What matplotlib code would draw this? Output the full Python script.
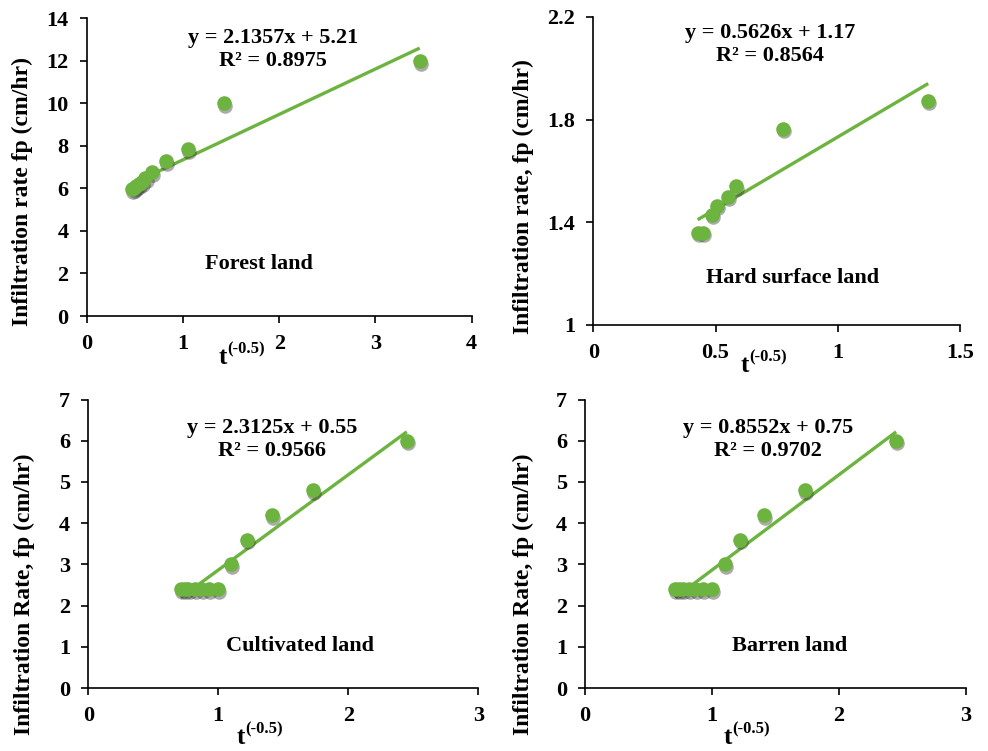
import numpy as np
import matplotlib
matplotlib.use('Agg')
import matplotlib.pyplot as plt
from matplotlib import transforms

plt.rcParams['font.family'] = ['Liberation Serif', 'DejaVu Serif']
plt.rcParams['font.weight'] = 'bold'

# --- data ---
# Forest land
forest_x = [3.46, 1.43, 1.05, 0.82, 0.68, 0.61, 0.57, 0.54, 0.51, 0.49, 0.47]
forest_y = [12.0, 10.0, 7.85, 7.3, 6.75, 6.5, 6.3, 6.2, 6.1, 6.0, 5.95]
forest_fit = (2.1357, 5.21)

# Hard surface land
hard_x = [1.37, 0.776, 0.584, 0.551, 0.505, 0.485, 0.447, 0.427]
hard_y = [1.874, 1.765, 1.54, 1.50, 1.465, 1.43, 1.36, 1.36]
hard_fit = (0.5626, 1.17)

# Cultivated land
cult_x = [2.45, 1.73, 1.41, 1.22, 1.10, 1.0, 0.93, 0.87, 0.82, 0.77, 0.74, 0.71]
cult_y = [6.0, 4.8, 4.2, 3.6, 3.0, 2.4, 2.4, 2.4, 2.4, 2.4, 2.4, 2.4]
cult_fit = (2.3125, 0.55)

# Barren land (the plotted points / line are identical to cultivated in the original)
barren_x = [2.45, 1.73, 1.41, 1.22, 1.10, 1.0, 0.93, 0.87, 0.82, 0.77, 0.74, 0.71]
barren_y = [6.0, 4.8, 4.2, 3.6, 3.0, 2.4, 2.4, 2.4, 2.4, 2.4, 2.4, 2.4]
barren_fit = (2.3125, 0.55)

GREEN = '#6db33f'
W, H = 988, 751


def rect(l, r, t, b):
    return [l / W, 1 - b / H, (r - l) / W, (b - t) / H]


def fxy(px, py):
    return px / W, 1 - py / H


fig = plt.figure(figsize=(W / 100, H / 100), dpi=100)

panels = [
    dict(x=forest_x, y=forest_y, fit=forest_fit, pos=(86.7, 471.7, 18.3, 316),
         xlim=(0, 4), xt=np.arange(0, 5, 1), ylim=(0, 14), yt=np.arange(0, 15, 2),
         eq='y = 2.1357x + 5.21', r2='R² = 0.8975', eqpos=(273, 38),
         name='Forest land', namepos=(259, 264),
         ylab='Infiltration rate fp (cm/hr)', ylabpos=(22, 192), xlabpos=(240, 356)),
    dict(x=hard_x, y=hard_y, fit=hard_fit, pos=(593.3, 960, 17, 325),
         xlim=(0, 1.5), xt=np.arange(0, 1.6, 0.5), ylim=(1, 2.2), yt=[1, 1.4, 1.8, 2.2],
         eq='y = 0.5626x + 1.17', r2='R² = 0.8564', eqpos=(770, 33),
         name='Hard surface land', namepos=(793, 278),
         ylab='Infiltration rate, fp (cm/hr)', ylabpos=(523, 197), xlabpos=(762, 364)),
    dict(x=cult_x, y=cult_y, fit=cult_fit, pos=(88.3, 478.3, 399.5, 688),
         xlim=(0, 3), xt=np.arange(0, 4, 1), ylim=(0, 7), yt=np.arange(0, 8, 1),
         eq='y = 2.3125x + 0.55', r2='R² = 0.9566', eqpos=(272, 428),
         name='Cultivated land', namepos=(300, 646),
         ylab='Infiltration Rate, fp (cm/hr)', ylabpos=(24, 594), xlabpos=(258, 736)),
    dict(x=barren_x, y=barren_y, fit=barren_fit, pos=(585, 966, 399.5, 688),
         xlim=(0, 3), xt=np.arange(0, 4, 1), ylim=(0, 7), yt=np.arange(0, 8, 1),
         eq='y = 0.8552x + 0.75', r2='R² = 0.9702', eqpos=(768, 428),
         name='Barren land', namepos=(790, 646),
         ylab='Infiltration Rate, fp (cm/hr)', ylabpos=(523, 594), xlabpos=(745, 736)),
]

for p in panels:
    ax = fig.add_axes(rect(*p['pos']))
    x = np.array(p['x'])
    y = np.array(p['y'])
    m, c = p['fit']
    xs = np.array([x.min(), x.max()])
    ax.plot(xs, m * xs + c, color=GREEN, lw=2.4, solid_capstyle='butt', zorder=2)
    # soft shadow under markers
    shadow = transforms.offset_copy(ax.transData, fig=fig, x=0.8, y=-2.0, units='points')
    ax.plot(x, y, 'o', color='#2e2e2e', alpha=0.4, ms=10.5, mew=0, transform=shadow, zorder=3)
    ax.plot(x, y, 'o', color=GREEN, ms=10.5, mew=0, zorder=4)

    ax.set_xlim(*p['xlim'])
    ax.set_ylim(*p['ylim'])
    ax.set_xticks(p['xt'])
    ax.set_yticks(p['yt'])
    ax.set_xticklabels(['{:g}'.format(v) for v in p['xt']])
    ax.set_yticklabels(['{:g}'.format(v) for v in p['yt']])
    for s in ['top', 'right']:
        ax.spines[s].set_visible(False)
    for s in ['left', 'bottom']:
        ax.spines[s].set_linewidth(1.2)
    ax.tick_params(direction='out', length=5, width=1.2, labelsize=16, pad=8)
    ax.set_facecolor('none')

    ex, ey = p['eqpos']
    fig.text(*fxy(ex, ey), p['eq'], ha='center', va='center', fontsize=16, fontweight='bold')
    fig.text(*fxy(ex, ey + 23), p['r2'], ha='center', va='center', fontsize=16, fontweight='bold')
    nx, ny = p['namepos']
    fig.text(*fxy(nx, ny), p['name'], ha='center', va='center', fontsize=16, fontweight='bold')
    lx, ly = p['ylabpos']
    fig.text(*fxy(lx, ly), p['ylab'], ha='center', va='center', rotation=90,
             fontsize=17, fontweight='bold')
    tx, ty = p['xlabpos']
    fig.text(*fxy(tx - 13, ty + 2), 't', ha='right', va='center', fontsize=18, fontweight='bold')
    fig.text(*fxy(tx - 13, ty - 7), '(-0.5)', ha='left', va='center', fontsize=12, fontweight='bold')

fig.savefig('out.png', dpi=100)
